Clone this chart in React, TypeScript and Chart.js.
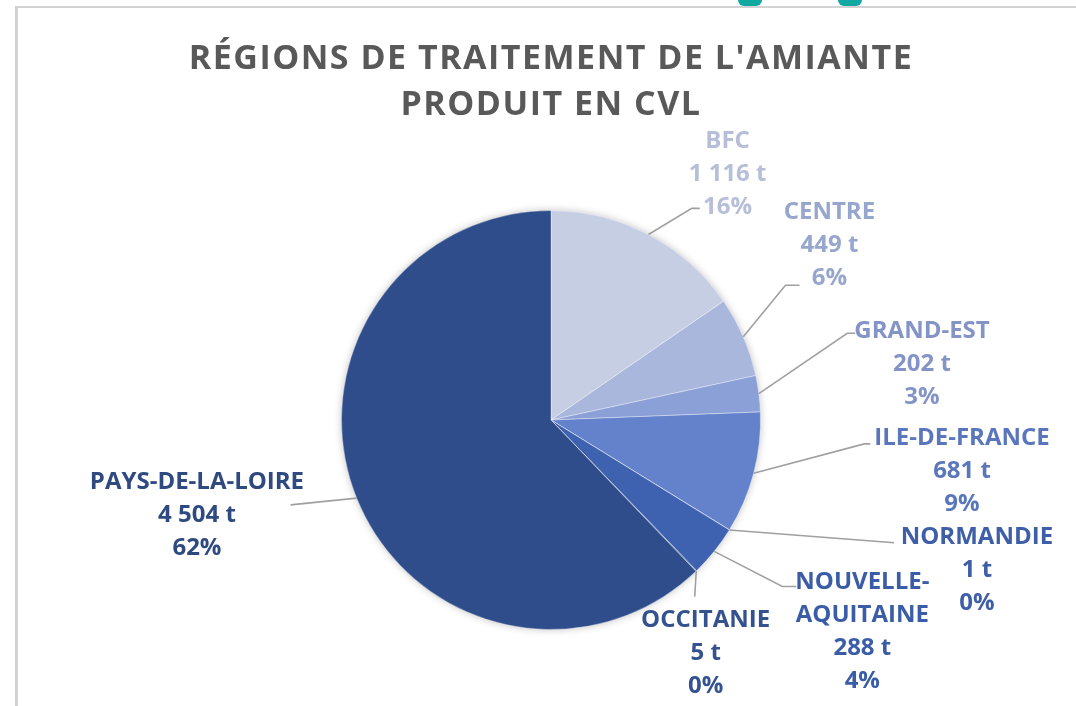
import React, { useEffect, useRef } from "react";
import { Chart, registerables } from "chart.js";

Chart.register(...registerables);

// ---- data ----
const regions = [
  "BFC",
  "CENTRE",
  "GRAND-EST",
  "ILE-DE-FRANCE",
  "NORMANDIE",
  "NOUVELLE-AQUITAINE",
  "OCCITANIE",
  "PAYS-DE-LA-LOIRE",
];
const tonnes = [1116, 449, 202, 681, 1, 288, 5, 4504];
const percents = [16, 6, 3, 9, 0, 4, 0, 62];
const titleLines = ["RÉGIONS DE TRAITEMENT DE L'AMIANTE", "PRODUIT EN CVL"];

// ---- styles ----
const sliceColors = [
  "#c6cee4",
  "#a9b7dd",
  "#8ba0d6",
  "#6382cb",
  "#4a6cbc",
  "#3e62b0",
  "#33569f",
  "#2e4d8a",
];
const labelColors = [
  "#b6bed9",
  "#97a6cd",
  "#8494c7",
  "#5a77bd",
  "#3e5fa8",
  "#3b5ca6",
  "#34528f",
  "#2f4a80",
];

// label layout, in units of the pie radius, relative to the pie centre
const labelLayout = [
  { cx: 0.843, cy: -1.181, ex: 0.71, ey: -1.01, elbow: 8, wrap: false },
  { cx: 1.329, cy: -0.843, ex: 1.186, ey: -0.643, elbow: 14, wrap: false },
  { cx: 1.771, cy: -0.276, ex: 1.452, ey: -0.414, elbow: 8, wrap: false },
  { cx: 1.962, cy: 0.238, ex: 1.524, ey: 0.114, elbow: 6, wrap: false },
  { cx: 2.033, cy: 0.71, ex: 1.638, ey: 0.586, elbow: 0, wrap: false },
  { cx: 1.486, cy: 1.0, ex: 1.171, ey: 0.795, elbow: 14, wrap: true },
  { cx: 0.738, cy: 1.105, ex: 0.686, ey: 0.843, elbow: 0, wrap: false },
  { cx: -1.69, cy: 0.448, ex: -1.243, ey: 0.405, elbow: 0, wrap: false },
];

const LABEL_FONT = "bold 24px 'Open Sans'";
const LABEL_CAP = 17;
const LABEL_LINE = 33;
const TITLE_FONT = "bold 34px 'Open Sans'";
const TITLE_CAP = 24;

function fmtThousands(n: number): string {
  return n.toString().replace(/\B(?=(\d{3})+(?!\d))/g, " ");
}

const pieDecor = {
  id: "pieDecor",
  beforeDatasetsDraw(chart: any) {
    const meta = chart.getDatasetMeta(0);
    const a = meta.data[0];
    if (!a) return;
    const { x, y, outerRadius } = a.getProps(["x", "y", "outerRadius"], true);
    const ctx = chart.ctx;
    ctx.save();
    ctx.shadowColor = "rgba(0,0,0,0.30)";
    ctx.shadowBlur = 9;
    ctx.fillStyle = "#ffffff";
    ctx.beginPath();
    ctx.arc(x, y, outerRadius - 1, 0, Math.PI * 2);
    ctx.fill();
    ctx.restore();
  },
  afterDatasetsDraw(chart: any) {
    const meta = chart.getDatasetMeta(0);
    const ctx = chart.ctx;
    ctx.save();
    meta.data.forEach((arc: any, i: number) => {
      const { x, y, startAngle, endAngle, outerRadius } = arc.getProps(
        ["x", "y", "startAngle", "endAngle", "outerRadius"],
        true
      );
      const R = outerRadius;
      const mid = (startAngle + endAngle) / 2;
      const L = labelLayout[i];
      const sx = x + Math.cos(mid) * R;
      const sy = y + Math.sin(mid) * R;
      const exx = x + L.ex * R;
      const eyy = y + L.ey * R;
      const dir = L.cx >= 0 ? 1 : -1;
      // leader line
      ctx.strokeStyle = "#a0a0a0";
      ctx.lineWidth = 1.6;
      ctx.beginPath();
      ctx.moveTo(sx, sy);
      ctx.lineTo(exx - dir * L.elbow, eyy);
      ctx.lineTo(exx, eyy);
      ctx.stroke();

      // text
      const name = regions[i];
      const nameLines =
        L.wrap && name.indexOf("-") > 0
          ? [name.slice(0, name.indexOf("-") + 1), name.slice(name.indexOf("-") + 1)]
          : [name];
      const lines = [
        ...nameLines,
        fmtThousands(tonnes[i]) + " t",
        percents[i] + "%",
      ];
      const cx = x + L.cx * R;
      const cy = y + L.cy * R;
      ctx.font = LABEL_FONT;
      ctx.fillStyle = labelColors[i];
      ctx.textAlign = "center";
      ctx.textBaseline = "alphabetic";
      lines.forEach((t, k) => {
        const lc = cy + (k - (lines.length - 1) / 2) * LABEL_LINE;
        ctx.fillText(t, cx, lc + LABEL_CAP / 2);
      });
    });
    ctx.restore();
  },
  afterDraw(chart: any) {
    const meta = chart.getDatasetMeta(0);
    const a = meta.data[0];
    const ctx = chart.ctx;
    const cx = a ? a.x : chart.width / 2;
    ctx.save();
    ctx.font = TITLE_FONT;
    (ctx as any).letterSpacing = "1.5px";
    ctx.fillStyle = "#595959";
    ctx.textAlign = "center";
    ctx.textBaseline = "alphabetic";
    ctx.fillText(titleLines[0], cx, 57 + TITLE_CAP / 2);
    ctx.fillText(titleLines[1], cx, 103 + TITLE_CAP / 2);
    ctx.restore();
  },
};

export default function App() {
  const canvasRef = useRef<HTMLCanvasElement | null>(null);

  useEffect(() => {
    const canvas = canvasRef.current;
    if (!canvas) return;
    const chart = new Chart(canvas, {
      type: "pie",
      data: {
        labels: regions,
        datasets: [
          {
            data: tonnes,
            backgroundColor: sliceColors,
            borderColor: "rgba(255,255,255,0.35)",
            borderWidth: 1,
          },
        ],
      },
      options: {
        responsive: true,
        maintainAspectRatio: false,
        animation: false,
        layout: { padding: { left: 341, right: 315, top: 210, bottom: 76 } },
        plugins: {
          legend: { display: false },
          title: { display: false },
          tooltip: { enabled: false },
        },
      },
      plugins: [pieDecor],
    });
    return () => chart.destroy();
  }, []);

  return (
    <div
      style={{
        position: "absolute",
        left: 0,
        top: 0,
        width: 1076,
        height: 706,
        background: "#ffffff",
        overflow: "hidden",
      }}
    >
      <div
        style={{
          position: "absolute",
          left: 15,
          top: 6,
          width: 1100,
          height: 800,
          borderLeft: "3px solid #d2d2d2",
          borderTop: "2px solid #d2d2d2",
        }}
      />
      <div
        style={{
          position: "absolute",
          left: 738,
          top: -6,
          width: 24,
          height: 12,
          background: "#12a8a2",
          borderRadius: 6,
        }}
      />
      <div
        style={{
          position: "absolute",
          left: 838,
          top: -6,
          width: 24,
          height: 12,
          background: "#12a8a2",
          borderRadius: 6,
        }}
      />
      <canvas
        ref={canvasRef}
        style={{ position: "absolute", left: 0, top: 0, width: 1076, height: 706 }}
      />
    </div>
  );
}
